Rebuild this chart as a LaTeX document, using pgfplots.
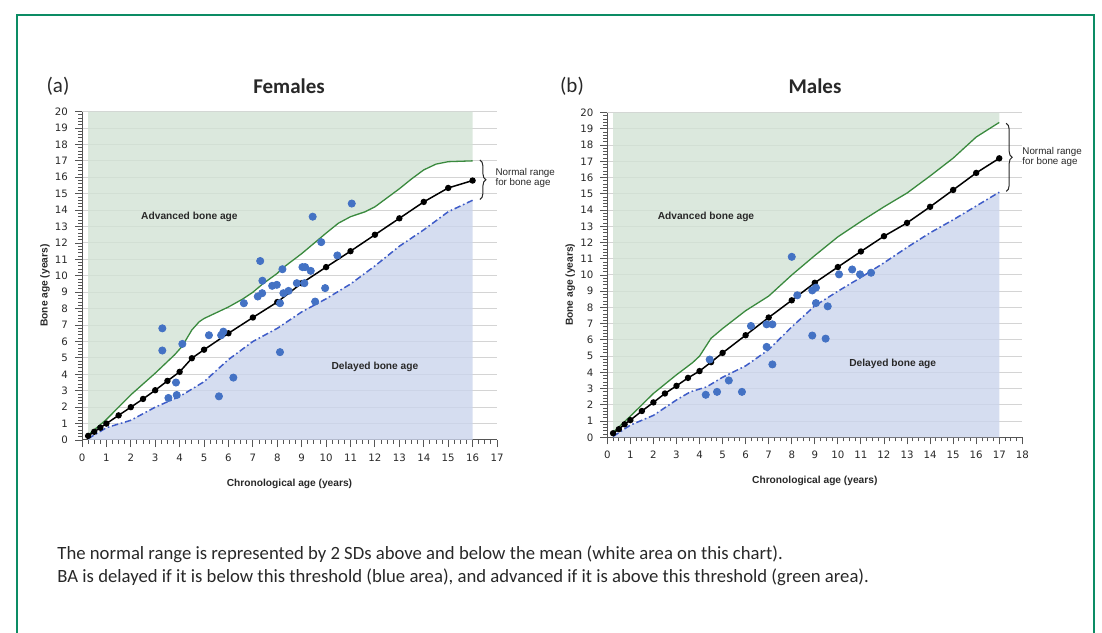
\documentclass[border=0pt]{standalone}
\usepackage{fontspec}
\setmainfont{Carlito}
\newfontfamily\lib{Liberation Sans}
\newfontfamily\tickfont{DejaVu Sans}
\usepackage{pgfplots}
\pgfplotsset{compat=1.18}
\usepgfplotslibrary{fillbetween}
\usetikzlibrary{decorations.pathreplacing}

\definecolor{framecol}{RGB}{12,140,100}
\definecolor{greenfill}{RGB}{210,226,212}
\definecolor{bluefill}{RGB}{203,212,236}
\definecolor{greenline}{RGB}{58,138,62}
\definecolor{blueline}{RGB}{62,92,200}
\definecolor{dotblue}{RGB}{68,114,196}
\definecolor{gridgray}{RGB}{212,212,212}
\definecolor{tickgray}{RGB}{85,85,85}
\definecolor{txt}{RGB}{40,40,40}

\tikzset{
  regionlab/.style={font=\lib\bfseries\fontsize{5.1}{6}\selectfont, text=txt},
  bracelab/.style={font=\lib\fontsize{4.9}{6}\selectfont, text=txt, anchor=west, align=left},
}

\pgfplotsset{
  bachart/.style={
    scale only axis, width=207.5pt,
    xmin=0, ymin=0, ymax=20,
    set layers, clip=false,
    axis x line*=bottom, axis y line*=left,
    axis line style={-, tickgray, line width=0.5pt},
    xtick distance=1, ytick distance=1,
    minor x tick num=3, minor y tick num=4,
    tick align=outside,
    major tick length=3.5pt, minor tick length=2pt,
    tick style={tickgray, line width=0.45pt},
    ymajorgrids, major grid style={gridgray, line width=0.5pt},
    tick label style={font=\tickfont\fontsize{5.1}{6}\selectfont, text=txt},
    /pgf/number format/assume math mode=true,
    xlabel={Chronological age (years)}, ylabel={Bone age (years)},
    label style={font=\lib\bfseries\fontsize{5.1}{6}\selectfont, text=txt},
    xlabel style={at={(axis description cs:0.5,-0.135)}, anchor=center},
    ylabel style={at={(axis description cs:-0.089,0.47)}, anchor=center},
  },
  meanline/.style={black, line width=0.75pt, mark=*, mark size=1.2pt},
  upline/.style={greenline, line width=0.65pt},
  lowline/.style={blueline, line width=0.75pt, dash pattern=on 3.2pt off 1.4pt on 0.8pt off 1.4pt},
  dots/.style={only marks, mark=*, mark size=1.8pt, dotblue},
}

\begin{document}
\begin{tikzpicture}
\draw[framecol, line width=1pt] (8.5pt,-10pt) rectangle (546.75pt,308.5pt);

% ---------- (a) Females ----------
\begin{axis}[bachart, at={(41pt,96pt)}, anchor=south west, xmax=17, height=164.2pt]
\addplot[upline, name path=upF] coordinates {
 (0.25,0.3) (1,1.25) (2,2.75) (3,4.07) (3.8,5.2) (4.1,5.7) (4.5,6.7) (4.8,7.2) (5,7.4)
 (6,8.1) (6.6,8.6) (7,9.0) (7.4,9.5) (8,10.15) (8.2,10.45) (9,11.35) (10,12.6) (10.5,13.2)
 (11,13.6) (11.6,13.9) (12,14.2) (13,15.3) (13.5,15.9) (14,16.45) (14.5,16.8) (15,16.95) (16,17.0)};
\addplot[draw=none, name path=topF] coordinates {(0.25,20) (16,20)};
\addplot[fill=greenfill, fill opacity=0.8] fill between[of=upF and topF];
\addplot[lowline, name path=lowF] coordinates {
 (0.25,0.08) (1,0.75) (2,1.2) (3,2.0) (4,2.65) (5,3.55) (6,4.9) (7,6.0) (8,6.8)
 (9,7.8) (10,8.6) (11,9.5) (12,10.6) (13,11.8) (14,12.8) (15,13.9) (16,14.6)};
\addplot[draw=none, name path=botF] coordinates {(0.25,0) (16,0)};
\addplot[fill=bluefill, fill opacity=0.8] fill between[of=lowF and botF];
\addplot[meanline] coordinates {
 (0.25,0.25) (0.5,0.5) (0.75,0.75) (1,1) (1.5,1.5) (2,2) (2.5,2.5) (3,3.03) (3.5,3.6)
 (4,4.15) (4.5,4.98) (5,5.5) (6,6.5) (7,7.46) (8,8.4) (9,9.55) (10,10.53) (11,11.5)
 (12,12.5) (13,13.5) (14,14.5) (15,15.35) (16,15.8)};
\addplot[dots] coordinates {
 (3.29,6.8) (3.29,5.45) (3.54,2.56) (3.85,3.5) (3.88,2.74) (4.11,5.85) (5.2,6.38)
 (5.61,2.66) (5.7,6.38) (5.79,6.6) (6.2,3.8) (6.63,8.33) (7.2,8.74) (7.3,10.9)
 (7.39,9.7) (7.38,8.94) (7.79,9.39) (7.98,9.45) (8.11,8.33) (8.11,5.35) (8.21,10.4)
 (8.25,8.94) (8.46,9.08) (8.8,9.55) (9.03,10.53) (9.14,10.53) (9.37,10.3) (9.11,9.55)
 (9.96,9.25) (9.55,8.43) (10.46,11.24) (11.05,14.4) (9.45,13.6) (9.8,12.05)};
\node[regionlab] at (axis cs:4.4,13.6) {Advanced bone age};
\node[regionlab] at (axis cs:12,4.45) {Delayed bone age};
\draw[decorate, decoration={brace, amplitude=3pt}, line width=0.5pt, txt]
  (axis cs:16.3,17.05) -- (axis cs:16.3,14.65);
\node[bracelab] at (axis cs:16.65,15.95) {Normal range\\[-1pt]for bone age};
\end{axis}

% ---------- (b) Males ----------
\begin{axis}[bachart, at={(303.65pt,97.35pt)}, anchor=south west, xmax=18, height=162.3pt]
\addplot[upline, name path=upM] coordinates {
 (0.25,0.3) (1,1.3) (1.5,2.0) (2,2.7) (3,3.85) (3.7,4.6) (4,5.0) (4.5,6.1) (5,6.7)
 (6,7.8) (7,8.7) (8,10.0) (9,11.2) (10,12.35) (11,13.3) (12,14.2) (13,15.05) (14,16.1)
 (15,17.2) (16,18.5) (17,19.4)};
\addplot[draw=none, name path=topM] coordinates {(0.25,20) (17,20)};
\addplot[fill=greenfill, fill opacity=0.8] fill between[of=upM and topM];
\addplot[lowline, name path=lowM] coordinates {
 (0.25,0.05) (1,0.75) (2,1.35) (3,2.3) (3.6,2.8) (4.3,3.1) (5,3.7) (6,4.4) (7,5.4)
 (8,6.8) (9,8.1) (10,9.0) (11,9.85) (12,10.75) (13,11.7) (14,12.6) (15,13.4) (16,14.25) (17,15.1)};
\addplot[draw=none, name path=botM] coordinates {(0.25,0) (17,0)};
\addplot[fill=bluefill, fill opacity=0.8] fill between[of=lowM and botM];
\addplot[meanline] coordinates {
 (0.25,0.25) (0.5,0.5) (0.75,0.8) (1,1.06) (1.5,1.62) (2,2.15) (2.5,2.7) (3,3.17)
 (3.5,3.66) (4,4.08) (4.5,4.63) (5,5.2) (6,6.29) (7,7.38) (8,8.44) (9,9.52) (10,10.49)
 (11,11.45) (12,12.39) (13,13.21) (14,14.2) (15,15.24) (16,16.29) (17,17.19)};
\addplot[dots] coordinates {
 (4.27,2.62) (4.44,4.79) (4.76,2.8) (5.27,3.5) (5.84,2.8) (6.23,6.86) (6.91,5.57)
 (6.91,6.96) (7.16,6.96) (7.16,4.49) (8.0,11.12) (8.24,8.75) (8.89,9.05) (9.05,9.22)
 (9.05,8.27) (9.56,8.07) (8.89,6.27) (9.47,6.08) (10.05,10.04) (10.62,10.34)
 (10.96,10.04) (11.44,10.14)};
\node[regionlab] at (axis cs:4.28,13.57) {Advanced bone age};
\node[regionlab] at (axis cs:12.38,4.5) {Delayed bone age};
\draw[decorate, decoration={brace, amplitude=3pt}, line width=0.5pt, txt]
  (axis cs:17.3,19.35) -- (axis cs:17.3,15.15);
\node[bracelab] at (axis cs:17.7,17.25) {Normal range\\[-1pt]for bone age};
\end{axis}

% ---------- titles and note ----------
\node[font=\fontsize{10.5}{12}\selectfont, text=txt] at (29pt,273pt) {(a)};
\node[font=\bfseries\fontsize{10.5}{12}\selectfont, text=txt] at (144.5pt,273pt) {Females};
\node[font=\fontsize{10.5}{12}\selectfont, text=txt] at (286pt,273pt) {(b)};
\node[font=\bfseries\fontsize{10.5}{12}\selectfont, text=txt] at (407.5pt,273pt) {Males};
\node[anchor=north west, align=left, inner sep=0pt, font=\fontsize{9.35}{11.5}\selectfont, text=txt]
  at (28.5pt,43.5pt) {The normal range is represented by 2 SDs above and below the mean (white area on this chart).\\
BA is delayed if it is below this threshold (blue area), and advanced if it is above this threshold (green area).};
\pgfresetboundingbox
\useasboundingbox (0,0) rectangle (551pt,316pt);
\end{tikzpicture}
\end{document}
